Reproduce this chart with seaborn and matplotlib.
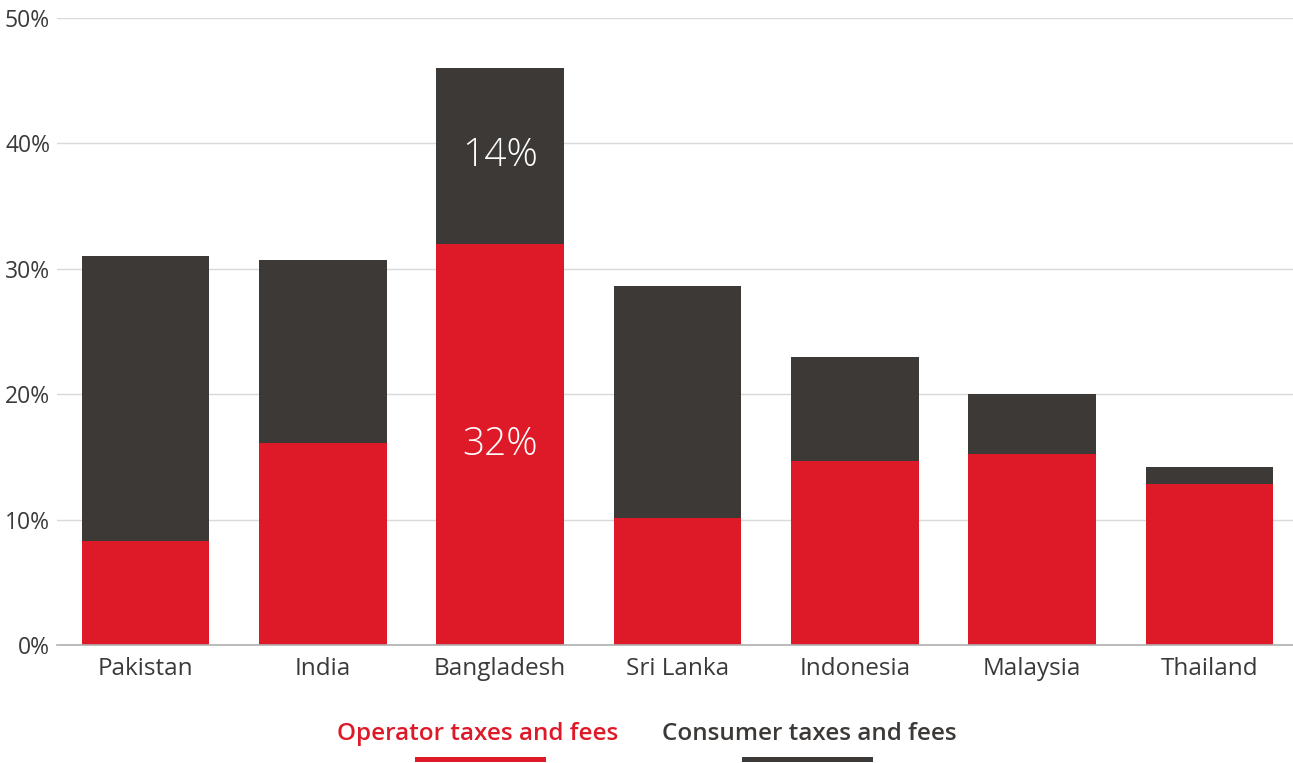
import matplotlib
matplotlib.use("Agg")
import matplotlib.pyplot as plt
import seaborn as sns
import pandas as pd

countries = ["Pakistan", "India", "Bangladesh", "Sri Lanka", "Indonesia", "Malaysia", "Thailand"]
operator = [8.3, 16.1, 32.0, 10.1, 14.7, 15.2, 12.8]
consumer = [22.7, 14.6, 14.0, 18.5, 8.3, 4.8, 1.4]
yticks = [0, 10, 20, 30, 40, 50]
series_names = ["Operator taxes and fees", "Consumer taxes and fees"]
labelled = "Bangladesh"

RED = "#DF1A28"
DARK = "#3D3936"
TEXT = "#3a3a3a"

df = pd.DataFrame({"country": countries, "operator": operator, "consumer": consumer})
df["total"] = df["operator"] + df["consumer"]

sns.set_theme(style="white")
plt.rcParams["font.family"] = ["Open Sans", "DejaVu Sans"]

fig = plt.figure(figsize=(12.93, 7.63), dpi=100)
ax = fig.add_axes([0.0441, 0.1547, 0.9598, 0.8217])

sns.barplot(data=df, x="country", y="total", color=DARK, saturation=1,
            width=0.72, linewidth=0, edgecolor="none", ax=ax, zorder=2)
sns.barplot(data=df, x="country", y="operator", color=RED, saturation=1,
            width=0.72, linewidth=0, edgecolor="none", ax=ax, zorder=3)

ax.set_xlim(-0.5, len(countries) - 0.5)
ax.set_ylim(0, 50)
ax.set_yticks(yticks)
ax.set_yticklabels([f"{v}%" for v in yticks])
ax.set_xlabel("")
ax.set_ylabel("")
ax.yaxis.grid(True, color="#d9d9d9", linewidth=1, zorder=0)
ax.set_axisbelow(True)
for s in ["top", "right", "left"]:
    ax.spines[s].set_visible(False)
ax.spines["bottom"].set_color("#b0b0b0")
ax.spines["bottom"].set_linewidth(1.2)
ax.spines["bottom"].set_zorder(4)
ax.tick_params(axis="both", length=0, colors=TEXT)
ax.tick_params(axis="x", pad=9, labelsize=17.5)
ax.tick_params(axis="y", pad=5, labelsize=16.5)

# value labels inside the highlighted bar
i = countries.index(labelled)
op, co = operator[i], consumer[i]
lab_kw = dict(ha="center", va="center", color="white", fontsize=28,
              fontweight="light", zorder=5)
ax.text(i, op / 2, f"{op:.0f}%", **lab_kw)
ax.text(i, op + co / 2, f"{co:.0f}%", **lab_kw)

# legend: coloured labels with underline bars
fig.text(0.3694, 0.0385, series_names[0], color=RED, fontsize=17.5,
         fontweight="semibold", ha="center", va="center")
fig.text(0.6256, 0.0385, series_names[1], color=DARK, fontsize=17.5,
         fontweight="semibold", ha="center", va="center")
fig.add_artist(plt.Rectangle((415 / 1293, 1 - 762 / 763), 131 / 1293, 5 / 763,
                             transform=fig.transFigure, color=RED, lw=0))
fig.add_artist(plt.Rectangle((742 / 1293, 1 - 762 / 763), 131 / 1293, 5 / 763,
                             transform=fig.transFigure, color=DARK, lw=0))

fig.savefig("out.png", dpi=100)
